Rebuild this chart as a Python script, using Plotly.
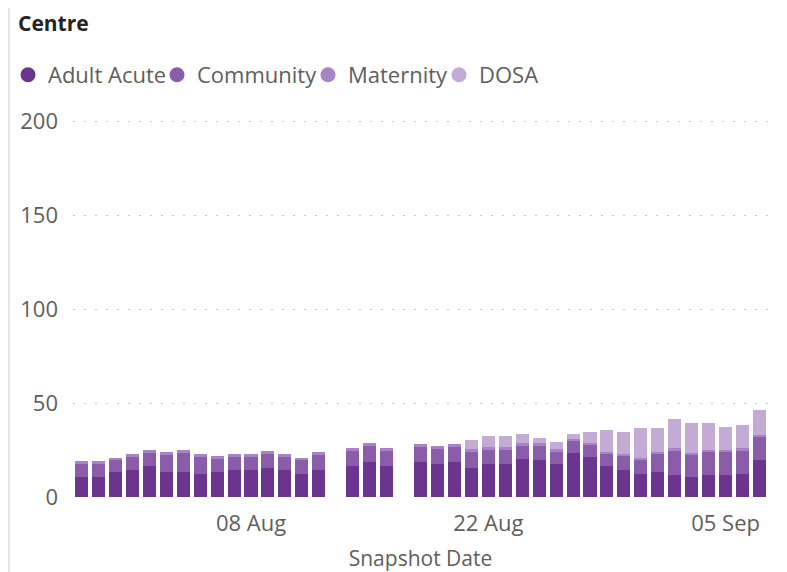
import plotly.graph_objects as go

dates = ["2023-07-29", "2023-07-30", "2023-07-31", "2023-08-01", "2023-08-02", "2023-08-03",
         "2023-08-04", "2023-08-05", "2023-08-06", "2023-08-07", "2023-08-08", "2023-08-09",
         "2023-08-10", "2023-08-11", "2023-08-12", "2023-08-14", "2023-08-15", "2023-08-16",
         "2023-08-18", "2023-08-19", "2023-08-20", "2023-08-21", "2023-08-22", "2023-08-23",
         "2023-08-24", "2023-08-25", "2023-08-26", "2023-08-27", "2023-08-28", "2023-08-29",
         "2023-08-30", "2023-08-31", "2023-09-01", "2023-09-02", "2023-09-03", "2023-09-04",
         "2023-09-05", "2023-09-06", "2023-09-07"]

adult_acute = [10.5, 10.5, 13.5, 14.5, 16.5, 13.5, 13.5, 12.5, 13.5, 14.5, 14.5, 15.5,
               14.5, 12.5, 14.5, 16.5, 18.5, 16.5, 18.5, 17.5, 18.5, 15.5, 17.5, 17.5,
               20.5, 19.5, 17.5, 23.5, 21.5, 16.5, 14.5, 12.5, 13.5, 11.5, 10.5, 11.5,
               11.5, 12.5, 19.5]
community = [7, 7, 6, 7, 7, 9, 10, 9, 7, 7, 7, 7.5,
             7, 7, 8, 8, 8.5, 8, 8, 8, 8, 9, 8, 8,
             7, 8, 7, 6.5, 6.5, 6.5, 7.5, 7.5, 9.5, 13.5, 12, 12.5,
             12.5, 12.5, 12.5]
maternity = [1.5, 1.5, 1.5, 1.5, 1.5, 1.5, 1.5, 1.5, 1.5, 1.5, 1.5, 1.5,
             1.5, 1.5, 1.5, 1.5, 1.5, 1.5, 1.5, 1.5, 1.5, 1, 1, 1,
             1, 1, 1, 1, 1, 1, 1, 1, 1, 1, 1, 1,
             1, 1, 1]
dosa = [0, 0, 0, 0, 0, 0, 0, 0, 0, 0, 0, 0,
        0, 0, 0, 0, 0, 0, 0, 0, 0, 5, 6, 6,
        5, 3, 4, 2.5, 5.5, 11.5, 11.5, 16, 13, 15.5, 16, 14.5,
        12.5, 12.5, 13.5]

series_names = ["Adult Acute", "Community", "Maternity", "DOSA"]
series_values = [adult_acute, community, maternity, dosa]
colors = ["#6B358F", "#8B5CAA", "#A785C4", "#C4ABD6"]

tick_vals = ["2023-08-08", "2023-08-22", "2023-09-05"]
tick_text = ["08 Aug", "22 Aug", "05 Sep"]

FONT = "Segoe UI, Open Sans, sans-serif"
# the page body adds an 8px margin, so the figure is sized to fit the window exactly
W, H = 779, 564
L, R, T, B = 65, 19, 112, 74

legend_ids = ["legend", "legend2", "legend3", "legend4"]
legend_left_px = [-5, 149, 300, 431]

fig = go.Figure()
for name, vals, col, lid in zip(series_names, series_values, colors, legend_ids):
    fig.add_trace(go.Bar(x=dates, y=vals, name=name, marker=dict(color=col, line=dict(width=0)),
                         width=0.77 * 86400000, showlegend=False))
    fig.add_trace(go.Scatter(x=[None], y=[None], mode="markers", name=name, legend=lid,
                             marker=dict(color=col, size=15, symbol="circle"), showlegend=True))

pw = W - L - R
ph = H - T - B
def px_x(p):
    return (p - L) / pw
def px_y(p):
    return (H - B - p) / ph

# grey card frame strip on the left
fig.add_shape(type="rect", xref="paper", yref="paper", x0=px_x(-2), x1=px_x(2), y0=px_y(H + 2), y1=px_y(-2),
              fillcolor="#E6E6E6", line_width=0, layer="below")

legend_style = dict(orientation="h", xref="container", yref="container", xanchor="left",
                    y=1 - 67 / H, yanchor="middle", font=dict(family=FONT, size=22, color="#605E5C"),
                    itemwidth=30, bgcolor="rgba(0,0,0,0)")
legends = {lid: dict(legend_style, x=lx / W) for lid, lx in zip(legend_ids, legend_left_px)}

fig.update_layout(
    width=W, height=H,
    margin=dict(l=L, r=R, t=T, b=B, autoexpand=False),
    paper_bgcolor="white", plot_bgcolor="white",
    barmode="stack",
    title=dict(text="<b>Centre</b>", x=10 / W, xanchor="left", y=1 - 16 / H, yanchor="middle",
               font=dict(family=FONT, size=21, color="#252423")),
    font=dict(family=FONT, color="#605E5C"),
    xaxis=dict(type="date", range=["2023-07-28 12:00", "2023-09-07 12:00"], automargin=False,
               tickvals=tick_vals, ticktext=tick_text, showgrid=False, zeroline=False,
               showline=False, ticks="", tickfont=dict(family=FONT, size=22, color="#605E5C"),
               ticklabelstandoff=10,
               title=dict(text="Snapshot Date", font=dict(family=FONT, size=21, color="#605E5C"), standoff=18)),
    yaxis=dict(range=[-0.5, 200.6], tickvals=[0, 50, 100, 150, 200], showgrid=True, automargin=False,
               gridcolor="#C8C8C8", griddash="2px,9px", gridwidth=1, zeroline=False, showline=False,
               ticks="", tickfont=dict(family=FONT, size=22, color="#605E5C"), ticklabelstandoff=14),
    **legends,
)

fig.write_html("out.html")
